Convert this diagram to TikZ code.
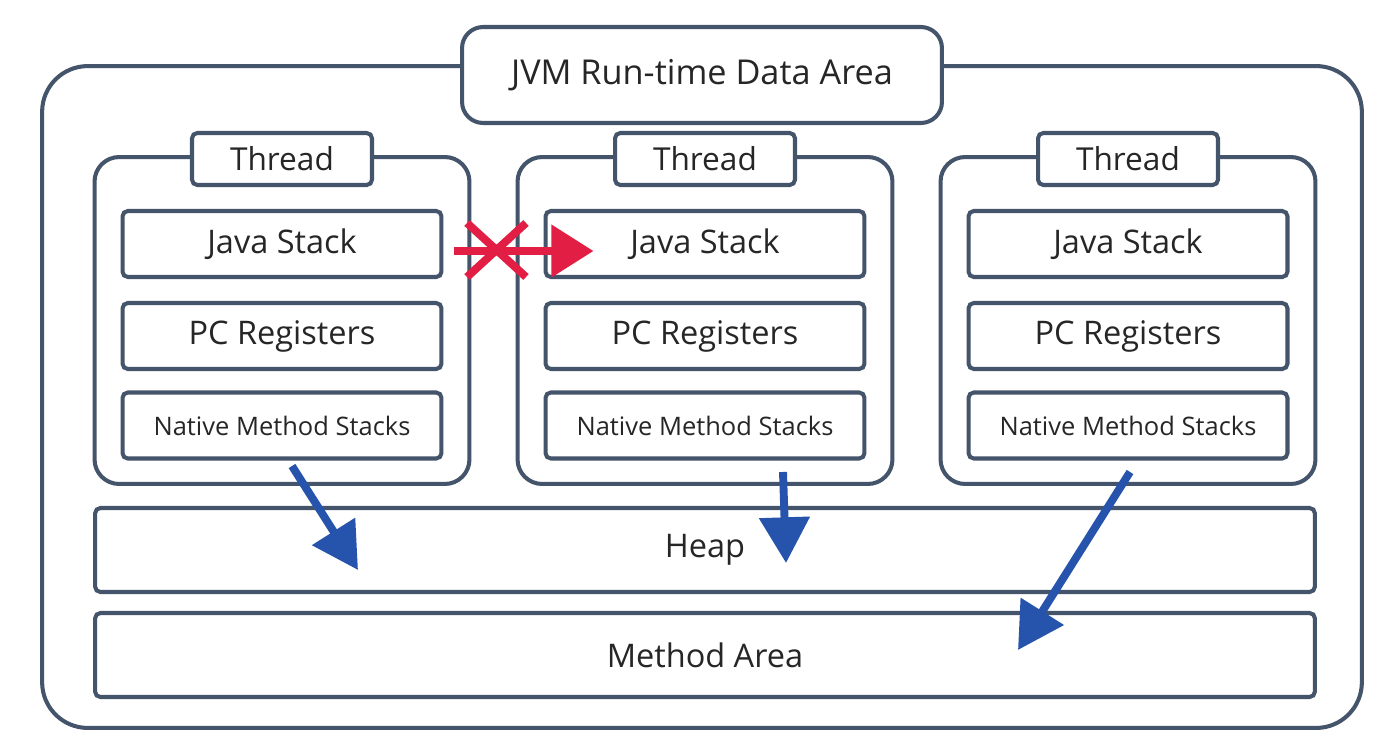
\documentclass[tikz,border=0pt]{standalone}
\usepackage{fontspec}
\setmainfont{Open Sans}
\definecolor{jvmgray}{RGB}{68,84,106}
\definecolor{jvmblue}{RGB}{38,84,172}
\definecolor{jvmred}{RGB}{226,30,68}
\usetikzlibrary{arrows.meta,positioning,calc}

\begin{document}
\begin{tikzpicture}[x=0.02cm, y=-0.02cm,
  box/.style={draw=jvmgray, line width=2.3pt, fill=white, rounded corners=3pt, text=black!85},
  areabox/.style={box, minimum width=24.4cm, minimum height=1.68cm, font=\fontsize{18.5}{22}\selectfont},
  partbox/.style={box, minimum width=6.38cm, minimum height=1.32cm, font=\fontsize{18.5}{22}\selectfont},
  hand/.style={line width=4.5pt, jvmblue, -{Triangle[length=26pt, width=28pt]}}]
\useasboundingbox (0,0) rectangle (1397,754);

% outer area + title
\node[box, rounded corners=26pt, minimum width=26.4cm, minimum height=13.24cm] (outer) at (702,397) {};
\node[box, rounded corners=12pt, minimum width=9.6cm, minimum height=1.92cm, font=\fontsize{19.5}{23}\selectfont] (title) at (702,75) {JVM Run-time Data Area};

% threads
\foreach \x [count=\i] in {282,705,1128} {
  \node[box, rounded corners=14pt, minimum width=7.5cm, minimum height=6.54cm] (thr\i) at (\x,320.5) {};
  \node[box, minimum width=3.6cm, minimum height=1.04cm, font=\fontsize{18}{21}\selectfont] (lbl\i) at (\x,159) {Thread};
  \node[partbox] (js\i) at (\x,244) {Java Stack};
  \node[partbox] (pc\i) at (\x,336) {PC Registers};
  \node[partbox, font=\fontsize{14.5}{17}\selectfont] (nms\i) at (\x,425.5) {Native Method Stacks};
}

% shared areas
\node[areabox] (heap) at (705,550) {Heap};
\node[areabox] (method) at (705,655) {Method Area};

% no sharing between stacks
\coordinate (redA) at ($(js1.east)+(11,7)$);
\coordinate (redB) at ($(js2.west)+(50,7)$);
\draw[line width=4.5pt, jvmred, -{Triangle[length=24pt, width=29pt]}] (redA) -- (redB);
\draw[line width=4.5pt, jvmred] (467,223) -- (526,277) (467,277) -- (526,223);

% threads reach the shared areas
\coordinate (b1s) at (292,466);
\coordinate (b1e) at (358,570);
\coordinate (b2s) at (783,472);
\coordinate (b2e) at (786,563);
\coordinate (b3s) at (1130,472);
\coordinate (b3e) at (1018,650);
\draw[hand] (b1s) -- (b1e);
\draw[hand] (b2s) -- (b2e);
\draw[hand] (b3s) -- (b3e);
\end{tikzpicture}
\end{document}
